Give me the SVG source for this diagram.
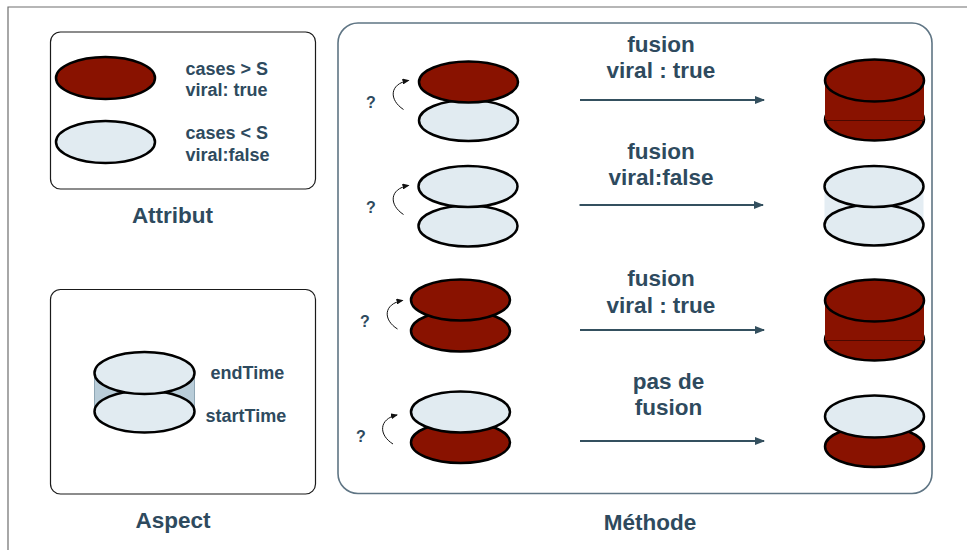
<svg xmlns="http://www.w3.org/2000/svg" width="967" height="550" viewBox="0 0 967 550">
  <style>
    .lbl { font-family: "Liberation Sans", Arial, sans-serif; font-weight: bold; fill: #2e4a5e; }
    .small { font-size: 18px; }
    .big { font-size: 22.5px; }
    .q { font-size: 16px; }
    .panel { fill: #ffffff; stroke: #1a1a1a; stroke-width: 1.2; }
    .method { fill: #ffffff; stroke: #5f7584; stroke-width: 1.6; }
    .red { fill: #891200; stroke: #000000; stroke-width: 2.5; }
    .pale { fill: #e1ebf1; stroke: #000000; stroke-width: 2.5; }
    .flow { stroke: #34505f; stroke-width: 2; fill: none; }
    .turn { stroke: #111111; stroke-width: 1; fill: none; }
  </style>
  <defs>
    <marker id="head" markerWidth="10" markerHeight="8" refX="9" refY="4" orient="auto" markerUnits="userSpaceOnUse">
      <path d="M0,0 L10,4 L0,8 Z" fill="#34505f"/>
    </marker>
    <marker id="tip" markerWidth="7" markerHeight="6" refX="6" refY="3" orient="auto" markerUnits="userSpaceOnUse">
      <path d="M0,0 L7,3 L0,6 Z" fill="#111111"/>
    </marker>
  </defs>

  <!-- page frame -->
  <rect width="967" height="550" fill="#ffffff"/>
  <path d="M8,550 L8,7 L967,7" fill="none" stroke="#6e6e6e" stroke-width="1.2"/>

  <!-- legend: attribute colours -->
  <g id="attribut">
    <rect class="panel" x="50.5" y="32" width="265" height="157" rx="10"/>
    <ellipse class="red" cx="105.5" cy="78" rx="49.5" ry="21"/>
    <ellipse class="pale" cx="105.5" cy="142" rx="49.5" ry="21"/>
    <text class="lbl small" x="185.5" y="74.5">cases &gt; S</text>
    <text class="lbl small" x="185.5" y="96">viral: true</text>
    <text class="lbl small" x="185.5" y="139">cases &lt; S</text>
    <text class="lbl small" x="185.5" y="160.5">viral:false</text>
    <text class="lbl big" x="172.5" y="223" text-anchor="middle">Attribut</text>
  </g>

  <!-- legend: time extent -->
  <g id="aspect">
    <rect class="panel" x="50.5" y="289.5" width="265" height="204.5" rx="10"/>
    <rect x="94.5" y="373" width="100" height="38.5" fill="#b9cdd9"/>
    <line x1="94.5" y1="373" x2="94.5" y2="411.5" stroke="#8fa6b4" stroke-width="1"/>
    <line x1="194.5" y1="373" x2="194.5" y2="411.5" stroke="#8fa6b4" stroke-width="1"/>
    <ellipse class="pale" cx="144.5" cy="411.5" rx="50" ry="21"/>
    <ellipse class="pale" cx="144.5" cy="373" rx="50" ry="21"/>
    <text class="lbl small" x="210.5" y="379">endTime</text>
    <text class="lbl small" x="205.5" y="421.5">startTime</text>
    <text class="lbl big" x="173" y="528" text-anchor="middle">Aspect</text>
  </g>

  <!-- method panel -->
  <g id="methode">
    <rect class="method" x="338" y="23" width="594" height="470.5" rx="20"/>
    <text class="lbl big" x="650" y="530" text-anchor="middle">Méthode</text>
  </g>

  <!-- case 1: true on false -->
  <g id="case1-input">
    <ellipse class="pale" cx="468.5" cy="120.5" rx="49.5" ry="20.5"/>
    <ellipse class="red" cx="468.5" cy="82" rx="49.5" ry="20.5"/>
    <text class="lbl q" x="366" y="107.5">?</text>
  </g>
  <g id="case1-output">
    <ellipse class="red" cx="874.5" cy="119.5" rx="49.5" ry="21"/>
    <rect x="825" y="80.5" width="99" height="39" fill="#891200"/>
    <line x1="825" y1="120.5" x2="924" y2="120.5" stroke="#4a0800" stroke-width="1"/>
    <ellipse class="red" cx="874.5" cy="80.5" rx="49.5" ry="21"/>
  </g>

  <!-- case 2: false on false -->
  <g id="case2-input">
    <ellipse class="pale" cx="468" cy="226" rx="49.5" ry="20.5"/>
    <ellipse class="pale" cx="468" cy="186.5" rx="49.5" ry="20.5"/>
    <text class="lbl q" x="366" y="213">?</text>
  </g>
  <g id="case2-output">
    <rect x="824.5" y="186.5" width="99" height="38.5" fill="#e4edf3"/>
    <ellipse class="pale" cx="874" cy="225" rx="49.5" ry="20.5"/>
    <ellipse class="pale" cx="874" cy="186.5" rx="49.5" ry="20.5"/>
  </g>

  <!-- case 3: true on true -->
  <g id="case3-input">
    <ellipse class="red" cx="460.5" cy="331" rx="49.5" ry="20.5"/>
    <ellipse class="red" cx="460.5" cy="300" rx="49.5" ry="20.5"/>
    <text class="lbl q" x="360" y="327">?</text>
  </g>
  <g id="case3-output">
    <ellipse class="red" cx="874.5" cy="339.5" rx="49.5" ry="21"/>
    <rect x="825" y="300.5" width="99" height="39.5" fill="#891200"/>
    <line x1="825" y1="340.5" x2="924" y2="340.5" stroke="#4a0800" stroke-width="1"/>
    <ellipse class="red" cx="874.5" cy="300.5" rx="49.5" ry="21"/>
  </g>

  <!-- case 4: false on true -->
  <g id="case4-input">
    <ellipse class="red" cx="460.5" cy="442.5" rx="49.5" ry="20.5"/>
    <ellipse class="pale" cx="460.5" cy="412" rx="49.5" ry="20.5"/>
    <text class="lbl q" x="356" y="442">?</text>
  </g>
  <g id="case4-output">
    <ellipse class="red" cx="874.5" cy="446.5" rx="49.5" ry="20.5"/>
    <ellipse class="pale" cx="874.5" cy="416.5" rx="49.5" ry="21"/>
  </g>

  <!-- transition labels -->
  <g id="labels">
    <text class="lbl big" x="661" y="51.5" text-anchor="middle">fusion</text>
    <text class="lbl big" x="661" y="77.5" text-anchor="middle">viral : true</text>
    <text class="lbl big" x="661" y="158.5" text-anchor="middle">fusion</text>
    <text class="lbl big" x="661" y="185" text-anchor="middle">viral:false</text>
    <text class="lbl big" x="661" y="286" text-anchor="middle">fusion</text>
    <text class="lbl big" x="661" y="313" text-anchor="middle">viral : true</text>
    <text class="lbl big" x="668.5" y="388.5" text-anchor="middle">pas de</text>
    <text class="lbl big" x="668.5" y="415" text-anchor="middle">fusion</text>
  </g>

  <!-- connectors -->
  <g id="connectors">
    <line class="flow" x1="580" y1="100" x2="764" y2="100" marker-end="url(#head)"/>
    <line class="flow" x1="579.5" y1="205" x2="763" y2="205" marker-end="url(#head)"/>
    <line class="flow" x1="580" y1="330" x2="764" y2="330" marker-end="url(#head)"/>
    <line class="flow" x1="580" y1="441" x2="764" y2="441" marker-end="url(#head)"/>
    <path class="turn" d="M403.5,109.5 C389,100 389,84 408.5,80.5" marker-end="url(#tip)"/>
    <path class="turn" d="M403.5,214.5 C389,205 389,189 408.5,185.5" marker-end="url(#tip)"/>
    <path class="turn" d="M397.5,329 C383,320 383,304 402.5,300.5" marker-end="url(#tip)"/>
    <path class="turn" d="M393,444 C378.5,435 378.5,419 397,415" marker-end="url(#tip)"/>
  </g>
</svg>
